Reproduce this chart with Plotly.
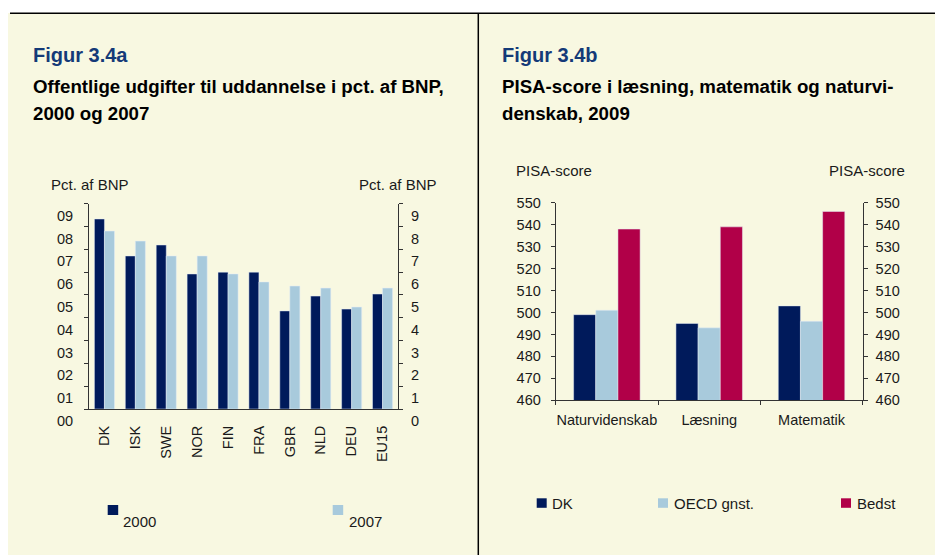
import plotly.graph_objects as go

# ---------------- data ----------------
countries = ["DK", "ISK", "SWE", "NOR", "FIN", "FRA", "GBR", "NLD", "DEU", "EU15"]
spend_2000 = [8.33, 6.71, 7.19, 5.92, 6.00, 6.00, 4.30, 4.95, 4.38, 5.04]
spend_2007 = [7.80, 7.36, 6.71, 6.71, 5.92, 5.57, 5.39, 5.30, 4.47, 5.30]
left_tick_vals = [0, 1, 2, 3, 4, 5, 6, 7, 8, 9]
left_tick_text = ["00", "01", "02", "03", "04", "05", "06", "07", "08", "09"]
right_tick_text = ["0", "1", "2", "3", "4", "5", "6", "7", "8", "9"]

subjects = ["Naturvidenskab", "Læsning", "Matematik"]
pisa_dk = [499, 495, 503]
pisa_oecd = [501, 493, 496]
pisa_best = [538, 539, 546]

series_left = ["2000", "2007"]
series_right = ["DK", "OECD gnst.", "Bedst"]

NAVY = "#001A5B"
LIGHT = "#A8CADC"
CRIMSON = "#B10048"
CREAM = "#F8F8E1"
TITLE_BLUE = "#143A78"
TXT = "#1a1a1a"
FONT = "Liberation Sans, Arial, sans-serif"

W, H = 935, 555


def px(x):
    return x / W


def py(y):
    return 1 - y / H


fig = go.Figure()

fig.add_trace(go.Bar(x=countries, y=spend_2000, name=series_left[0], marker_color=NAVY,
                     xaxis="x", yaxis="y", showlegend=False))
fig.add_trace(go.Bar(x=countries, y=spend_2007, name=series_left[1], marker_color=LIGHT,
                     xaxis="x", yaxis="y", showlegend=False))
# invisible helper so the right-hand axis is drawn
fig.add_trace(go.Scatter(x=countries, y=spend_2007, mode="lines", line=dict(width=0),
                         opacity=0, hoverinfo="skip", xaxis="x", yaxis="y2", showlegend=False))

fig.add_trace(go.Bar(x=subjects, y=pisa_dk, name=series_right[0], marker_color=NAVY,
                     xaxis="x3", yaxis="y3", showlegend=False))
fig.add_trace(go.Bar(x=subjects, y=pisa_oecd, name=series_right[1], marker_color=LIGHT,
                     xaxis="x3", yaxis="y3", showlegend=False))
fig.add_trace(go.Bar(x=subjects, y=pisa_best, name=series_right[2], marker_color=CRIMSON,
                     xaxis="x3", yaxis="y3", showlegend=False))
fig.add_trace(go.Scatter(x=subjects, y=pisa_dk, mode="lines", line=dict(width=0),
                         opacity=0, hoverinfo="skip", xaxis="x3", yaxis="y4", showlegend=False))

tickfont = dict(family=FONT, size=14.5, color=TXT)
axis_common = dict(showgrid=False, zeroline=False, showline=True, linecolor="#333",
                   linewidth=1, tickcolor="#333", tickfont=tickfont, fixedrange=True,
                   automargin=False)

fig.update_layout(
    width=W, height=H,
    margin=dict(l=0, r=0, t=0, b=0, autoexpand=False),
    paper_bgcolor="white",
    plot_bgcolor="rgba(0,0,0,0)",
    barmode="group",
    bargap=0.35,
    bargroupgap=0,
    font=dict(family=FONT, color=TXT),
    showlegend=False,
    xaxis=dict(domain=[px(89), px(398)], anchor="y", type="category",
               ticks="", tickangle=-90, ticklabelstandoff=10, **axis_common),
    yaxis=dict(domain=[py(409), py(203.7)], anchor="x", range=[0, 9],
               tickmode="array", tickvals=left_tick_vals, ticktext=left_tick_text,
               ticks="outside", ticklen=4, ticklabelshift=12, ticklabelstandoff=8,
               **axis_common),
    yaxis2=dict(overlaying="y", anchor="x", side="right", range=[0, 9],
                tickmode="array", tickvals=left_tick_vals, ticktext=right_tick_text,
                ticks="outside", ticklen=4, ticklabelshift=12, ticklabelstandoff=5,
                **axis_common),
    xaxis3=dict(domain=[px(555.7), px(862.7)], anchor="y3", type="category",
                ticks="outside", ticklen=4, tickson="boundaries", ticklabelstandoff=6,
                tickangle=0, **axis_common),
    yaxis3=dict(domain=[py(400.3), py(202.7)], anchor="x3", range=[460, 550],
                tickmode="linear", tick0=460, dtick=10,
                ticks="outside", ticklen=4, ticklabelstandoff=7, **axis_common),
    yaxis4=dict(overlaying="y3", anchor="x3", side="right", range=[460, 550],
                tickmode="linear", tick0=460, dtick=10,
                ticks="outside", ticklen=4, ticklabelstandoff=5, **axis_common),
)

shapes = [
    dict(type="rect", xref="paper", yref="paper", x0=px(8), x1=1, y0=0, y1=py(13),
         fillcolor=CREAM, line_width=0, layer="below"),
    dict(type="line", xref="paper", yref="paper", x0=px(10), x1=1, y0=py(13.3), y1=py(13.3),
         line=dict(color="black", width=1.5)),
    dict(type="line", xref="paper", yref="paper", x0=px(478.3), x1=px(478.3), y0=0, y1=py(13.3),
         line=dict(color="black", width=1.5)),
]

annotations = []


def text(x, y, s, size, color=TXT, bold=False, xanchor="left"):
    annotations.append(dict(xref="paper", yref="paper", x=px(x), y=py(y), text=(f"<b>{s}</b>" if bold else s),
                            showarrow=False, xanchor=xanchor, yanchor="middle",
                            font=dict(family=FONT, size=size, color=color)))


# titles
text(31, 55, "Figur 3.4a", 20, TITLE_BLUE, True)
text(31, 87, "Offentlige udgifter til uddannelse i pct. af BNP,", 18.7, "black", True)
text(31, 113, "2000 og 2007", 18.7, "black", True)
text(500, 55, "Figur 3.4b", 20, TITLE_BLUE, True)
text(500, 87, "PISA-score i læsning, matematik og naturvi-", 18.7, "black", True)
text(500, 113, "denskab, 2009", 18.7, "black", True)

# axis unit labels
text(48.5, 184.5, "Pct. af BNP", 15)
text(439, 184.5, "Pct. af BNP", 15, xanchor="right")
text(513.5, 171, "PISA-score", 15)
text(907, 171, "PISA-score", 15, xanchor="right")

# legends (manual)
left_legend = [(107.7, 505, 121, 521), (332.7, 505, 346.5, 521)]
for (sx, sy, tx, ty), name, col in zip(left_legend, series_left, [NAVY, LIGHT]):
    shapes.append(dict(type="rect", xref="paper", yref="paper", x0=px(sx), x1=px(sx + 10.5),
                       y0=py(sy + 10), y1=py(sy), fillcolor=col, line_width=0))
    text(tx, ty, name, 15)

right_legend = [(536.7, 498.3, 550, 503), (658, 498.3, 671.5, 503), (841, 498.3, 854.5, 503)]
for (sx, sy, tx, ty), name, col in zip(right_legend, series_right, [NAVY, LIGHT, CRIMSON]):
    shapes.append(dict(type="rect", xref="paper", yref="paper", x0=px(sx), x1=px(sx + 10),
                       y0=py(sy + 9.5), y1=py(sy), fillcolor=col, line_width=0))
    text(tx, ty, name, 15)

fig.update_layout(shapes=shapes, annotations=annotations)

fig.write_html("out.html", config={"displayModeBar": False},
               post_script="document.body.style.margin='0';")
